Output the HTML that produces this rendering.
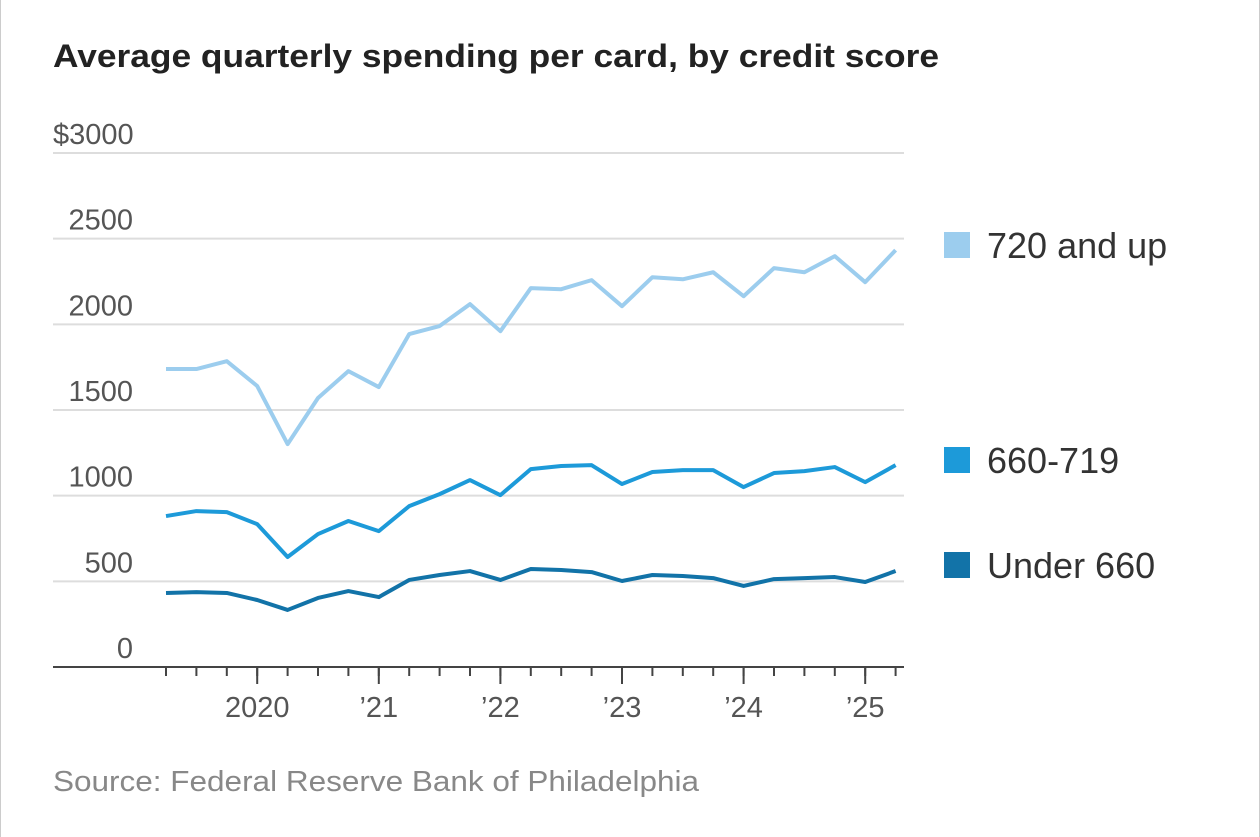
<!DOCTYPE html>
<html><head><meta charset="utf-8"><style>
body{margin:0;background:#fff;}
#wrap{position:relative;width:1260px;height:837px;overflow:hidden;background:#fff;border-left:1px solid #ccc;border-right:1px solid #ccc;box-sizing:border-box;font-family:"Liberation Sans",sans-serif;}
</style></head><body>
<div id="wrap">
<svg id="chart" width="1260" height="837"></svg>
</div>
<script>
const quarters=["2019Q2","2019Q3","2019Q4","2020Q1","2020Q2","2020Q3","2020Q4","2021Q1","2021Q2","2021Q3","2021Q4","2022Q1","2022Q2","2022Q3","2022Q4","2023Q1","2023Q2","2023Q3","2023Q4","2024Q1","2024Q2","2024Q3","2024Q4","2025Q1","2025Q2"];
const high=[1739,1739,1785,1640,1301,1570,1727,1634,1943,1990,2118,1960,2211,2205,2258,2106,2275,2263,2304,2164,2328,2304,2398,2246,2433];
const mid=[881,910,904,834,642,776,852,793,939,1009,1091,1003,1155,1173,1178,1068,1138,1149,1149,1050,1132,1143,1167,1079,1178];
const low=[432,437,432,391,333,403,443,408,508,537,560,508,572,566,554,502,537,531,519,473,513,519,525,496,560];
const yTicks=[0,500,1000,1500,2000,2500,3000];
const yTickLabels=["0","500","1000","1500","2000","2500","$3000"];
const xTickIdx=[3,7,11,15,19,23];
const xTickLabels=["2020","\u201921","\u201922","\u201923","\u201924","\u201925"];
const NS="http://www.w3.org/2000/svg";
const svg=document.getElementById('chart');
const y=v=>667-v*(514/3000);
const x=i=>165+i*30.4;
function mk(t,a,p){const e=document.createElementNS(NS,t);for(const k in a)e.setAttribute(k,a[k]);(p||svg).appendChild(e);return e;}
let t=mk('text',{x:52,y:67,'font-size':32,'font-weight':'bold',fill:'#222',textLength:886,lengthAdjust:'spacingAndGlyphs'});t.textContent="Average quarterly spending per card, by credit score";


yTicks.forEach((v,k)=>{
 if(v>0){const g=mk('line',{x1:52,x2:903,y1:y(v),y2:y(v),stroke:'#ddd','stroke-width':2});
 
 }
 const lb=mk('text',{x:v===3000?52:132,y:y(v)-9,'font-size':29,fill:'#555','text-anchor':v===3000?'start':'end'});
 lb.textContent=yTickLabels[k];
 
 
});
const base=mk('line',{x1:52,x2:903,y1:y(0),y2:y(0),stroke:'#444','stroke-width':2});


quarters.forEach((q,i)=>{const tk=mk('line',{x1:x(i),x2:x(i),y1:y(0),y2:y(0)+9,stroke:'#444','stroke-width':2});
 
 });
xTickIdx.forEach((i,k)=>{const tk=mk('line',{x1:x(i),x2:x(i),y1:y(0),y2:y(0)+17,stroke:'#444','stroke-width':2});
 
 
 const lb=mk('text',{x:x(i),y:717,'font-size':29,fill:'#555','text-anchor':'middle'});lb.textContent=xTickLabels[k];
 
 });
const series=[[high,'#9ccdee','720 and up',245,'series-720-and-up'],[mid,'#1d9ad9','660-719',460,'series-660-719'],[low,'#1273a8','Under 660',565,'series-under-660']];
series.forEach(([d,c,name,ly,dn])=>{
 const p=mk('polyline',{points:d.map((v,i)=>x(i)+','+y(v)).join(' '),fill:'none',stroke:c,'stroke-width':4,'stroke-linejoin':'round'});
 
 
 const r=mk('rect',{x:943,y:ly-13,width:26,height:26,fill:c});
 
 
 const lt=mk('text',{x:986,y:ly+13,'font-size':36,fill:'#333'});lt.textContent=name;
 
 
});
const s=mk('text',{x:52,y:791,'font-size':29,fill:'#888',textLength:646,lengthAdjust:'spacingAndGlyphs'});s.textContent="Source: Federal Reserve Bank of Philadelphia";


</script>
</body></html>
